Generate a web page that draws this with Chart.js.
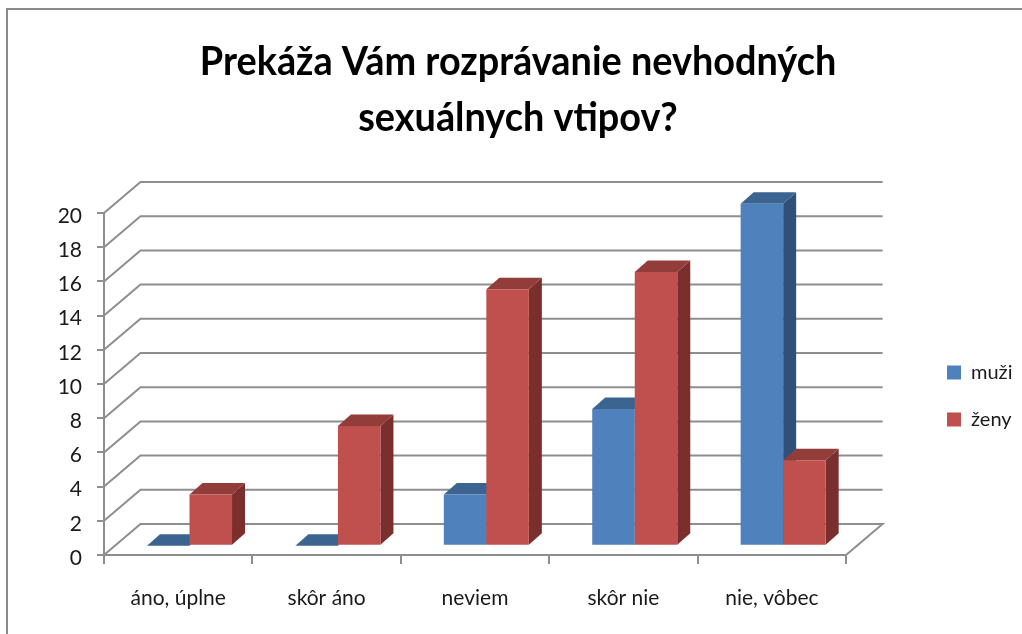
<!DOCTYPE html>
<html><head><meta charset="utf-8">
<style>html,body{margin:0;padding:0;background:#fff}#w{position:relative;width:1022px;height:634px;overflow:hidden}canvas{filter:blur(0.6px)}</style>
<script src="https://cdn.jsdelivr.net/npm/chart.js@4"></script>
</head><body><div id="w"><canvas id="c" width="1022" height="634"></canvas></div>
<script>
const titleLines = ["Prekáža Vám rozprávanie nevhodných", "sexuálnych vtipov?"];
const categories = ["áno, úplne", "skôr áno", "neviem", "skôr nie", "nie, vôbec"];
const muzi = [0, 0, 3, 8, 20];
const zeny = [3, 7, 15, 16, 5];
const yMax = 20;
const yStep = 2;

const GRID = "#8e8e8e";
const BAR_SHIFT = {x: 11.3, y: -9.3};
const BAR_DEPTH = {x: 13, y: -11.5};
const WALL = {x: 36.5, y: -31};
const TITLE_SQUEEZE = 0.946;
const shades = [{top:"#3b6491", side:"#2f5079"}, {top:"#933d3a", side:"#7b2f2d"}];

const threeD = {
  id: "threeD",
  afterLayout(chart) {
    const t = chart.titleBlock; t.left = 14; t.right = 1022;
    if (!t._squeezed) {
      const orig = t.draw.bind(t);
      t.draw = function () {
        const c = chart.ctx, cx = (t.left + t.right) / 2;
        c.save(); c.translate(cx, 0); c.scale(TITLE_SQUEEZE, 1); c.translate(-cx, 0);
        orig(); c.restore();
      };
      t._squeezed = true;
    }
    const l = chart.legend; const dx = 947 - 27 - l.left; l.left += dx; l.right += dx;
    const dy = 396 - (l.top + l.bottom) / 2; l.top += dy; l.bottom += dy;
  },
  beforeDatasetsDraw(chart) {
    const {ctx, scales: {x, y}} = chart;
    const L = x.left, R = x.right;
    ctx.save();
    ctx.strokeStyle = GRID; ctx.lineWidth = 2;
    y.ticks.forEach(t => {
      const py = y.getPixelForValue(t.value);
      ctx.beginPath();
      ctx.moveTo(L, py); ctx.lineTo(L + WALL.x, py + WALL.y); ctx.lineTo(R + WALL.x, py + WALL.y);
      if (t.value === 0) { ctx.lineTo(R, py); }
      ctx.stroke();
    });
    ctx.translate(BAR_SHIFT.x, BAR_SHIFT.y);
    [0, 1].forEach(i => {
      const meta = chart.getDatasetMeta(i);
      meta.data.forEach(b => {
        const l = b.x - b.width / 2, r = b.x + b.width / 2, top = b.y, base = b.base;
        const dx = BAR_DEPTH.x, dy = BAR_DEPTH.y;
        ctx.fillStyle = shades[i].side;
        ctx.beginPath();
        ctx.moveTo(r, top); ctx.lineTo(r + dx, top + dy); ctx.lineTo(r + dx, base + dy); ctx.lineTo(r, base);
        ctx.closePath(); ctx.fill();
        ctx.fillStyle = shades[i].top;
        ctx.beginPath();
        ctx.moveTo(l, top); ctx.lineTo(l + dx, top + dy); ctx.lineTo(r + dx, top + dy); ctx.lineTo(r, top);
        ctx.closePath(); ctx.fill();
      });
      meta.controller.draw();
    });
    ctx.restore();
    return false;
  }
};

new Chart(document.getElementById("c"), {
  type: "bar",
  data: {labels: categories, datasets: [
    {label: "muži", data: muzi, backgroundColor: "#4f81bd"},
    {label: "ženy", data: zeny, backgroundColor: "#c0504d"}
  ]},
  plugins: [threeD],
  options: {
    responsive: false, animation: false,
    layout: {padding: {left: 14, right: 73.5, top: 0, bottom: 0}},
    datasets: {bar: {categoryPercentage: 0.573, barPercentage: 1, borderWidth: 0}},
    plugins: {
      tooltip: {enabled: false},
      title: {display: true, text: titleLines, color: "#000",
        font: {family: "Lato", weight: "bold", size: 40, lineHeight: 56 / 40},
        padding: {top: 34, bottom: 67}},
      legend: {display: true, position: "right",
        labels: {boxWidth: 14, boxHeight: 14, padding: 27, color: "#1a1a1a", font: {family: "Lato", size: 20}}}
    },
    scales: {
      x: {
        afterFit(s) { s.height = 79; },
        grid: {drawOnChartArea: false, tickLength: 9, color: GRID, lineWidth: 2},
        border: {color: GRID, width: 2},
        ticks: {padding: 22, color: "#1a1a1a", font: {family: "Lato", size: 21}, maxRotation: 0}
      },
      y: {
        min: 0, max: yMax,
        afterFit(s) { s.width = 90; },
        grid: {drawOnChartArea: false, tickLength: 7, color: GRID, lineWidth: 2},
        border: {color: GRID, width: 2},
        ticks: {stepSize: yStep, padding: 15, labelOffset: 3, color: "#1a1a1a", font: {family: "Lato", size: 21}}
      }
    }
  }
});
(function(){
  const ctx = document.getElementById("c").getContext("2d");
  ctx.save(); ctx.strokeStyle = "#8a8a8a"; ctx.lineWidth = 2;
  ctx.beginPath(); ctx.moveTo(7, 634); ctx.lineTo(7, 9); ctx.lineTo(1022, 9); ctx.stroke(); ctx.restore();
})();
</script></body></html>
